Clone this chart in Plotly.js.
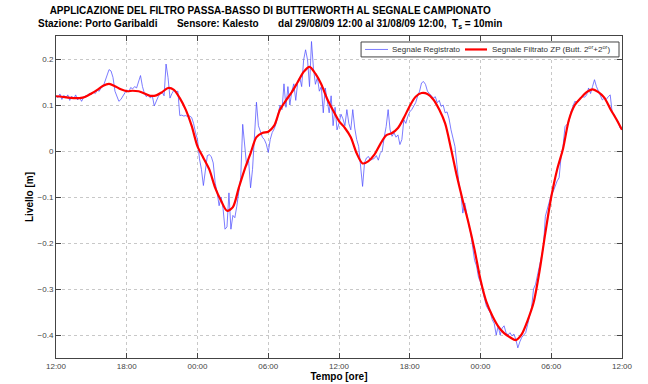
<!DOCTYPE html>
<html>
<head>
<meta charset="utf-8">
<script src="https://cdn.plot.ly/plotly-3.0.1.min.js"></script>
<style>html,body{margin:0;padding:0;background:#fff;}#chart{width:648px;height:384px;}</style>
</head>
<body>
<div id="chart"></div>
<script>
// Sampling: raw every 10 min, filtered read every 30 min; hours from 29/08/09 12:00
const rawStepHours = 10 / 60;
const filtStepHours = 0.5;

const tickHours = [0, 6, 12, 18, 24, 30, 36, 42, 48];
const tickLabels = ['12:00', '18:00', '00:00', '06:00', '12:00', '18:00', '00:00', '06:00', '12:00'];

const seriesNames = ['Segnale Registrato', 'Segnale Filtrato ZP (Butt. 2<sup>or</sup>+2<sup>or</sup>)'];
const seriesColors = ['rgba(80,80,255,0.75)', '#ff0000'];

const rawLevel = [
  0.120, 0.116, 0.124, 0.112, 0.121, 0.115,
  0.122, 0.110, 0.119, 0.113, 0.122, 0.111,
  0.117, 0.108, 0.116, 0.120, 0.121, 0.125,
  0.123, 0.128, 0.125, 0.132, 0.130, 0.138,
  0.140, 0.152, 0.165, 0.177, 0.174, 0.160,
  0.130, 0.118, 0.108, 0.112, 0.120, 0.126,
  0.133, 0.128, 0.138, 0.135, 0.140, 0.137,
  0.150, 0.164, 0.140, 0.125, 0.118, 0.123,
  0.115, 0.120, 0.098, 0.110, 0.118, 0.125,
  0.128, 0.120, 0.189, 0.160, 0.115, 0.125,
  0.132, 0.128, 0.130, 0.077, 0.078, 0.076,
  0.077, 0.075, 0.076, 0.073, 0.060, 0.040,
  0.025, -0.017, -0.040, -0.075, -0.040, -0.010,
  -0.008, -0.012, -0.026, -0.070, -0.090, -0.119,
  -0.100, -0.125, -0.170, -0.165, -0.091, -0.170,
  -0.140, -0.145, -0.120, -0.090, -0.058, 0.058,
  0.020, -0.032, -0.020, -0.080, -0.040, 0.033,
  0.106, 0.055, 0.040, 0.030, 0.025, 0.015,
  -0.003, 0.025, 0.040, 0.048, 0.060, 0.077,
  0.100, 0.090, 0.146, 0.095, 0.140, 0.100,
  0.130, 0.146, 0.110, 0.150, 0.160, 0.140,
  0.198, 0.220, 0.198, 0.140, 0.238, 0.180,
  0.145, 0.160, 0.130, 0.140, 0.083, 0.137,
  0.110, 0.083, 0.120, 0.055, 0.095, 0.046,
  0.060, 0.080, 0.070, 0.055, 0.090, 0.060,
  0.046, 0.090, 0.050, 0.025, 0.010, -0.040,
  -0.077, -0.025, -0.015, -0.012, -0.020, -0.018,
  -0.016, -0.010, -0.020, -0.005, 0.000, 0.030,
  0.053, 0.090, 0.046, 0.032, 0.040, 0.030,
  0.035, 0.014, 0.025, 0.068, 0.060, 0.075,
  0.085, 0.090, 0.097, 0.105, 0.119, 0.130,
  0.148, 0.151, 0.145, 0.130, 0.125, 0.120,
  0.115, 0.118, 0.105, 0.110, 0.097, 0.100,
  0.083, 0.085, 0.070, 0.046, 0.030, 0.010,
  -0.030, -0.070, -0.090, -0.135, -0.113, -0.142,
  -0.160, -0.178, -0.215, -0.238, -0.250, -0.275,
  -0.285, -0.300, -0.320, -0.337, -0.345, -0.352,
  -0.367, -0.375, -0.400, -0.380, -0.400, -0.385,
  -0.380, -0.395, -0.400, -0.395, -0.402, -0.398,
  -0.410, -0.428, -0.415, -0.405, -0.400, -0.395,
  -0.377, -0.360, -0.340, -0.300, -0.290, -0.270,
  -0.250, -0.225, -0.210, -0.142, -0.125, -0.110,
  -0.095, -0.088, -0.075, -0.065, -0.058, -0.012,
  0.010, 0.053, 0.058, 0.064, 0.085, 0.097,
  0.108, 0.106, 0.112, 0.115, 0.118, 0.117,
  0.122, 0.137, 0.125, 0.140, 0.155, 0.140,
  0.130, 0.120, 0.111, 0.115, 0.112, 0.118,
  0.122, 0.084, 0.080, 0.070, 0.065, 0.050,
  0.046
];

const filteredLevel = [
  0.119, 0.118, 0.116, 0.115, 0.115, 0.118, 0.125, 0.133, 0.142, 0.146,
  0.141, 0.134, 0.130, 0.131, 0.130, 0.125, 0.120, 0.121, 0.128, 0.137,
  0.133, 0.115, 0.090, 0.055, 0.010, -0.015, -0.040, -0.080, -0.108, -0.130,
  -0.122, -0.080, -0.040, -0.005, 0.030, 0.039, 0.042, 0.055, 0.090, 0.110,
  0.128, 0.150, 0.172, 0.183, 0.168, 0.145, 0.113, 0.088, 0.065, 0.050,
  0.030, -0.005, -0.027, -0.022, -0.008, 0.015, 0.034, 0.039, 0.050, 0.072,
  0.098, 0.118, 0.126, 0.124, 0.112, 0.090, 0.060, 0.005, -0.055, -0.108,
  -0.158, -0.215, -0.280, -0.328, -0.358, -0.381, -0.396, -0.405, -0.411, -0.398,
  -0.368, -0.330, -0.262, -0.178, -0.100, -0.040, 0.005, 0.068, 0.100, 0.115,
  0.128, 0.134, 0.128, 0.116, 0.092, 0.070, 0.046
];

const rawHours = rawLevel.map((_, i) => i * rawStepHours);
const filtHours = filteredLevel.map((_, i) => i * filtStepHours);

const FONT = 'Liberation Sans Narrow, Arial Narrow, Liberation Sans, Arial, sans-serif';
const FONT_REG = 'Liberation Sans, Arial, sans-serif';

const traces = [
  {
    x: rawHours, y: rawLevel, type: 'scatter', mode: 'lines',
    name: seriesNames[0],
    line: {color: seriesColors[0], width: 1}
  },
  {
    x: filtHours, y: filteredLevel, type: 'scatter', mode: 'lines',
    name: seriesNames[1],
    line: {color: seriesColors[1], width: 2.2, shape: 'spline', smoothing: 0.8}
  }
];

const axisCommon = {
  showline: true, linecolor: '#444', linewidth: 1, mirror: 'ticks',
  ticks: 'inside', ticklen: 5, tickcolor: '#444', tickwidth: 1,
  showgrid: true, gridcolor: '#c8c8c8', griddash: 'dot', gridwidth: 1,
  zeroline: false,
  tickfont: {family: FONT_REG, size: 8, color: '#444'}
};

// Legend drawn as a boxed key in paper coordinates (top-right inside the axes)
const legBox = {x0: 0.539, x1: 0.9947, y0: 0.935, y1: 0.9814};
const legY = (legBox.y0 + legBox.y1) / 2;
const legItems = [
  {lx0: 0.546, lx1: 0.5866, tx: 0.590, width: 1},
  {lx0: 0.7226, lx1: 0.7615, tx: 0.7668, width: 2.2}
];
const shapes = [{
  type: 'rect', xref: 'paper', yref: 'paper',
  x0: legBox.x0, x1: legBox.x1, y0: legBox.y0, y1: legBox.y1,
  line: {color: '#444', width: 1}, fillcolor: '#fff', layer: 'above'
}];
const annotations = [];
legItems.forEach((it, k) => {
  shapes.push({
    type: 'line', xref: 'paper', yref: 'paper',
    x0: it.lx0, x1: it.lx1, y0: legY, y1: legY,
    line: {color: seriesColors[k], width: it.width}, layer: 'above'
  });
  annotations.push({
    xref: 'paper', yref: 'paper', x: it.tx, y: legY,
    xanchor: 'left', yanchor: 'middle', showarrow: false,
    text: seriesNames[k],
    font: {family: FONT_REG, size: 8, color: '#333'}
  });
});

const layout = {
  width: 648, height: 384,
  paper_bgcolor: '#fff', plot_bgcolor: '#fff',
  margin: {l: 56, r: 26, t: 36, b: 26},
  showlegend: false,
  shapes: shapes,
  annotations: annotations,
  title: {
    text: '<b>APPLICAZIONE DEL FILTRO PASSA-BASSO DI BUTTERWORTH AL SEGNALE CAMPIONATO</b><br><b>Stazione: Porto Garibaldi       Sensore: Kalesto       dal 29/08/09 12:00 al 31/08/09 12:00,  T<sub>s</sub> = 10min</b>',
    x: 0.417, xref: 'container', xanchor: 'center',
    y: 0.963, yref: 'container', yanchor: 'top',
    font: {family: FONT, size: 10, color: '#000'}
  },
  xaxis: Object.assign({}, axisCommon, {
    range: [0, 48], tickvals: tickHours, ticktext: tickLabels,
    automargin: false,
    title: {text: '<b>Tempo [ore]</b>', standoff: 2, font: {family: FONT_REG, size: 10, color: '#000'}}
  }),
  yaxis: Object.assign({}, axisCommon, {
    range: [-0.45, 0.25], dtick: 0.1, tick0: 0,
    automargin: false,
    title: {text: '<b>Livello [m]</b>', standoff: 2, font: {family: FONT_REG, size: 10, color: '#000'}}
  })
};

Plotly.newPlot('chart', traces, layout, {displayModeBar: false, staticPlot: true});
</script>
</body>
</html>
